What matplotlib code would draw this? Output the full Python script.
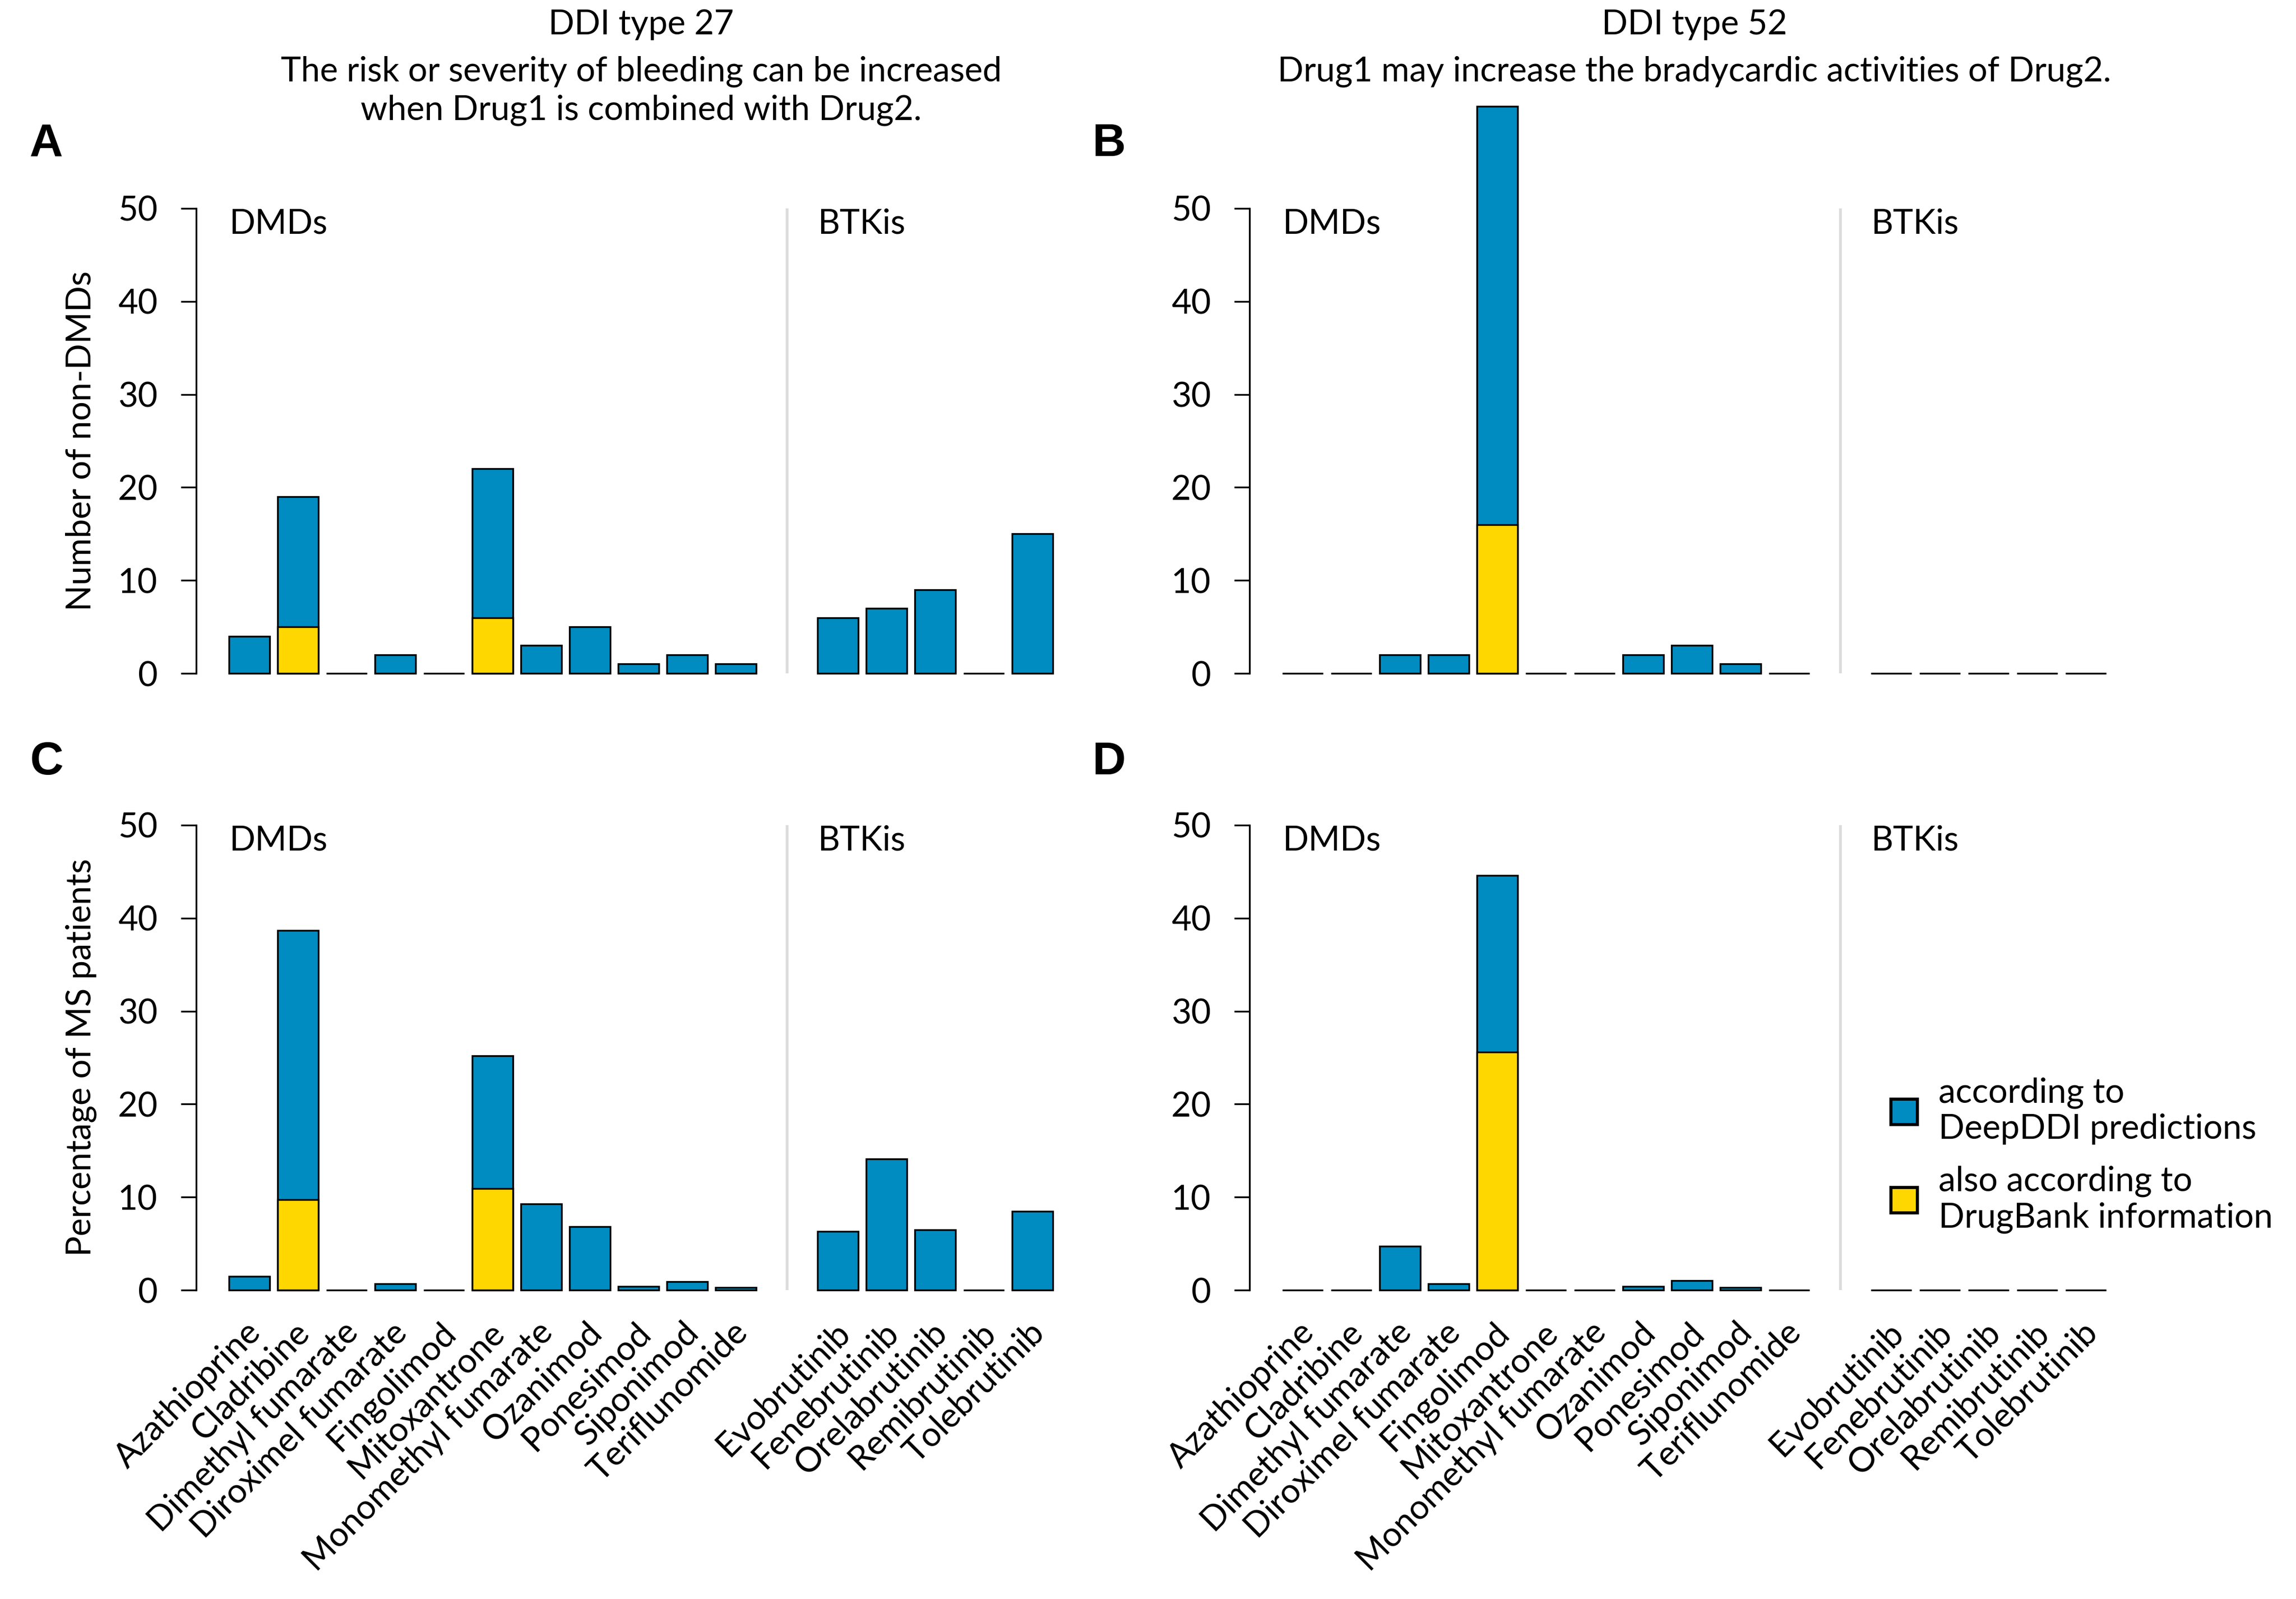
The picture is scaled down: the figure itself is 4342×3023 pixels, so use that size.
import numpy as np
import matplotlib
matplotlib.use('Agg')
import matplotlib.pyplot as plt
import matplotlib.transforms as mtransforms
from matplotlib.patches import Patch

dmds = ['Azathioprine', 'Cladribine', 'Dimethyl fumarate', 'Diroximel fumarate',
        'Fingolimod', 'Mitoxantrone', 'Monomethyl fumarate', 'Ozanimod',
        'Ponesimod', 'Siponimod', 'Teriflunomide']
btkis = ['Evobrutinib', 'Fenebrutinib', 'Orelabrutinib', 'Remibrutinib', 'Tolebrutinib']

# A: DDI type 27, number of non-DMDs
a_deepddi_dmd = [4, 19, 0, 2, 0, 22, 3, 5, 1, 2, 1]
a_bank_dmd = [0, 5, 0, 0, 0, 6, 0, 0, 0, 0, 0]
a_deepddi_btk = [6, 7, 9, 0, 15]
a_bank_btk = [0, 0, 0, 0, 0]

# B: DDI type 52, number of non-DMDs
b_deepddi_dmd = [0, 0, 2, 2, 61, 0, 0, 2, 3, 1, 0]
b_bank_dmd = [0, 0, 0, 0, 16, 0, 0, 0, 0, 0, 0]
b_deepddi_btk = [0, 0, 0, 0, 0]
b_bank_btk = [0, 0, 0, 0, 0]

# C: DDI type 27, percentage of MS patients
c_deepddi_dmd = [1.5, 38.7, 0, 0.7, 0, 25.2, 9.3, 6.8, 0.4, 0.9, 0.3]
c_bank_dmd = [0, 9.7, 0, 0, 0, 10.9, 0, 0, 0, 0, 0]
c_deepddi_btk = [6.3, 14.1, 6.5, 0, 8.5]
c_bank_btk = [0, 0, 0, 0, 0]

# D: DDI type 52, percentage of MS patients
d_deepddi_dmd = [0, 0, 4.7, 0.7, 44.6, 0, 0, 0.4, 1.0, 0.3, 0]
d_bank_dmd = [0, 0, 0, 0, 25.6, 0, 0, 0, 0, 0, 0]
d_deepddi_btk = [0, 0, 0, 0, 0]
d_bank_btk = [0, 0, 0, 0, 0]

blue = '#008cc1'
yellow = '#ffd700'
sep_color = '#dcdcdc'

plt.rcParams['font.family'] = ['Lato', 'DejaVu Sans']
fs = 15.5

x_dmd = np.arange(len(dmds))
x_btk = 12.1 + np.arange(len(btkis))
x_sep = 11.05
width = 0.84


def draw_panel(ax, deep_dmd, bank_dmd, deep_btk, bank_btk, show_names):
    xs = np.concatenate([x_dmd, x_btk])
    deep = np.array(deep_dmd + deep_btk, dtype=float)
    bank = np.array(bank_dmd + bank_btk, dtype=float)
    ax.bar(xs, deep, width=width, color=blue, edgecolor='black', linewidth=0.8,
           clip_on=False, zorder=2)
    mask = bank > 0
    ax.bar(xs[mask], bank[mask], width=width, color=yellow, edgecolor='black',
           linewidth=0.8, clip_on=False, zorder=3)
    ax.plot([x_sep, x_sep], [0, 50], color=sep_color, lw=1.3, zorder=1)
    ax.text(x_dmd[0] - width / 2, 47.3, 'DMDs', fontsize=fs, va='baseline', ha='left')
    ax.text(x_btk[0] - width / 2, 47.3, 'BTKis', fontsize=fs, va='baseline', ha='left')

    ax.set_xlim(-1.09, 17.2)
    ax.set_ylim(0, 50)
    ax.set_yticks(np.arange(0, 51, 10))
    for s in ['top', 'right', 'bottom']:
        ax.spines[s].set_visible(False)
    ax.spines['left'].set_bounds(0, 50)
    ax.spines['left'].set_linewidth(0.8)
    ax.tick_params(axis='y', length=7, width=0.8, pad=10.5, labelsize=fs)
    ax.tick_params(axis='x', length=0)
    if show_names:
        ax.set_xticks(xs)
        ax.set_xticklabels(dmds + btkis, rotation=45, ha='right', va='center',
                           rotation_mode='anchor', fontsize=fs)
        ax.tick_params(axis='x', pad=17)
        shift = mtransforms.ScaledTranslation(3 / 72, 0, ax.figure.dpi_scale_trans)
        for lab in ax.get_xticklabels():
            lab.set_transform(lab.get_transform() + shift)
    else:
        ax.set_xticks([])


fig = plt.figure(figsize=(4342 / 300, 3023 / 300), dpi=300)
w = 0.38754
h = 0.29078
axA = fig.add_axes([0.08545, 0.57889, w, h])
axB = fig.add_axes([0.54422, 0.57889, w, h])
axC = fig.add_axes([0.08545, 0.19318, w, h])
axD = fig.add_axes([0.54422, 0.19318, w, h])

draw_panel(axA, a_deepddi_dmd, a_bank_dmd, a_deepddi_btk, a_bank_btk, False)
draw_panel(axB, b_deepddi_dmd, b_bank_dmd, b_deepddi_btk, b_bank_btk, False)
draw_panel(axC, c_deepddi_dmd, c_bank_dmd, c_deepddi_btk, c_bank_btk, True)
draw_panel(axD, d_deepddi_dmd, d_bank_dmd, d_deepddi_btk, d_bank_btk, True)

axA.set_ylabel('Number of non-DMDs', fontsize=fs)
axC.set_ylabel('Percentage of MS patients', fontsize=fs)
for ax in (axA, axC):
    ax.yaxis.set_label_coords(-0.112, 0.5)

# titles above the two columns
xa = 0.08545 + w / 2
xb = 0.54422 + w / 2
fig.text(xa, 0.9785, 'DDI type 27', ha='center', va='baseline', fontsize=fs)
fig.text(xa, 0.94906, 'The risk or severity of bleeding can be increased',
         ha='center', va='baseline', fontsize=fs)
fig.text(xa, 0.92491, 'when Drug1 is combined with Drug2.',
         ha='center', va='baseline', fontsize=fs)
fig.text(xb, 0.9785, 'DDI type 52', ha='center', va='baseline', fontsize=fs)
fig.text(xb, 0.94906, 'Drug1 may increase the bradycardic activities of Drug2.',
         ha='center', va='baseline', fontsize=fs)

# panel letters
for lab, px, py in [('A', 0.0129, 0.9024), ('B', 0.4756, 0.9024),
                    ('C', 0.0129, 0.5157), ('D', 0.4756, 0.5157)]:
    fig.text(px, py, lab, fontsize=21, fontweight='bold', va='baseline',
             family='Liberation Sans')

handles = [Patch(facecolor=blue, edgecolor='black', linewidth=1.4),
           Patch(facecolor=yellow, edgecolor='black', linewidth=1.4)]
leg = fig.legend(handles, ['according to\nDeepDDI predictions',
                           'also according to\nDrugBank information'],
                 loc='center left', bbox_to_anchor=(0.8236, 0.2775),
                 frameon=False, fontsize=fs, handlelength=0.78, handleheight=0.78,
                 handletextpad=0.62, labelspacing=0.6, borderpad=0, borderaxespad=0)
for t in leg.get_texts():
    t.set_linespacing(1.2)

fig.savefig('out.png', dpi=300)
